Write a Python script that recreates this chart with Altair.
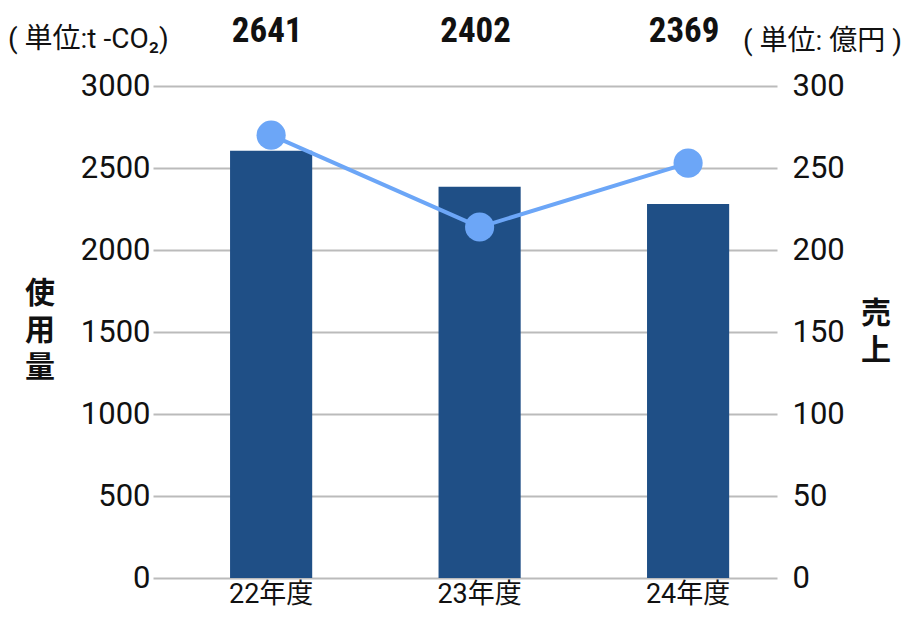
import altair as alt
import pandas as pd

years = ["22年度", "23年度", "24年度"]
usage = [2605, 2385, 2280]
sales = [270, 214, 253]
top_labels = ["2641", "2402", "2369"]
left_ticks = [0, 500, 1000, 1500, 2000, 2500, 3000]
right_ticks = [0, 50, 100, 150, 200, 250, 300]

df = pd.DataFrame({"year": years, "usage": usage, "sales": sales, "label": top_labels})

FONT = "Roboto, 'Noto Sans CJK JP', sans-serif"
CJK = "'Noto Sans CJK JP', sans-serif"
BAR = "#1F4F86"
LINE = "#6CA6F7"
INK = "#111111"

x = alt.X(
    "year:N", sort=years, title=None,
    scale=alt.Scale(paddingInner=0.606, paddingOuter=0.2995, align=0.617),
    axis=alt.Axis(labelAngle=0, domain=False, ticks=False, labelPadding=3,
                  labelFontSize=27, labelFont=FONT, labelColor=INK),
)

base = alt.Chart(df)

bars = base.mark_bar(color=BAR).encode(
    x=x,
    y=alt.Y("usage:Q", title=None, scale=alt.Scale(domain=[0, 3000]),
            axis=alt.Axis(orient="left", values=left_ticks, format="d", grid=True,
                          gridColor="#BBBBBB", gridWidth=2, domain=False, ticks=False,
                          labelPadding=3, labelFontSize=31, labelFont=FONT, labelColor=INK)),
)

sales_y = alt.Y("sales:Q", title=None, scale=alt.Scale(domain=[0, 300]),
                axis=alt.Axis(orient="right", values=right_ticks, format="d", grid=False,
                              domain=False, ticks=False, labelPadding=15, labelFontSize=31,
                              labelFont=FONT, labelColor=INK))

line = base.mark_line(color=LINE, strokeWidth=4).encode(x=x, y=sales_y)
points = base.mark_circle(color=LINE, opacity=1, size=850).encode(x=x, y=sales_y)
sales_layer = alt.layer(line, points)

tops = base.mark_text(font="'Roboto Condensed', 'Liberation Sans Narrow', Roboto, sans-serif",
                      fontWeight="bold", fontSize=35, baseline="alphabetic", dx=-4,
                      color=INK).encode(x=x, y=alt.value(-44), text="label:N")

unit_left = alt.Chart(pd.DataFrame({"t": ["( 単位:t -CO₂)"]})).mark_text(
    align="left", baseline="middle", fontSize=28, font=FONT, color=INK).encode(
    x=alt.value(-145), y=alt.value(-46), text="t:N")

unit_right = alt.Chart(pd.DataFrame({"t": ["( 単位: 億円 )"]})).mark_text(
    align="right", baseline="middle", fontSize=28, font=FONT, color=INK).encode(
    x=alt.value(749), y=alt.value(-44), text="t:N")

title_left = alt.Chart(pd.DataFrame({"k": [0]})).mark_text(
    text=["使", "用", "量"], lineHeight=37, fontSize=30, fontWeight="bold", font=CJK,
    baseline="middle", align="center", color=INK).encode(
    x=alt.value(-113), y=alt.value(208))

title_right = alt.Chart(pd.DataFrame({"k": [0]})).mark_text(
    text=["売", "上"], lineHeight=37, fontSize=30, fontWeight="bold", font=CJK,
    baseline="middle", align="center", color=INK).encode(
    x=alt.value(723), y=alt.value(228))

chart = alt.layer(
    bars, sales_layer, tops, unit_left, unit_right, title_left, title_right
).resolve_scale(y="independent").properties(
    width=624, height=492,
    autosize=alt.AutoSizeParams(type="none"),
    padding={"left": 145, "top": 78, "right": 126, "bottom": 31},
).configure_view(stroke=None)

chart.save("out.html", embed_options={"renderer": "svg", "actions": False})
